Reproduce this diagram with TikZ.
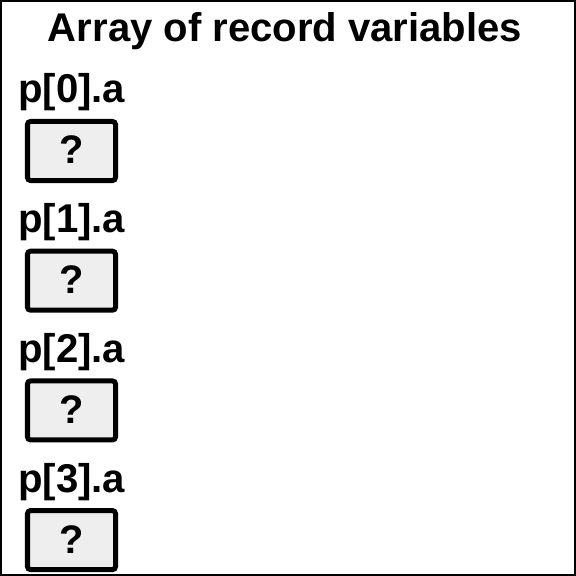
\documentclass[tikz,border=0pt]{standalone}
\usepackage{fontspec}
\setmainfont{Liberation Sans}
\begin{document}
\begin{tikzpicture}[x=1bp,y=-1bp,
  lbl/.style={inner sep=0pt,anchor=base west,font=\fontsize{40.3}{42}\selectfont\bfseries},
  cell/.style={draw=black,line width=5bp,fill=cellgray,rounded corners=3bp,minimum width=88bp,minimum height=59bp,inner sep=0pt},
  qm/.style={inner sep=0pt,anchor=base,font=\fontsize{40}{42}\selectfont\bfseries}]
\definecolor{cellgray}{HTML}{EEEEEE}
\useasboundingbox (0,0) rectangle (576,576);
\draw[line width=2bp] (1,1) rectangle (575,575);
\node[inner sep=0pt,anchor=base,font=\fontsize{40.2}{42}\selectfont\bfseries] (title) at (285,42) {Array of record variables};
\foreach \i in {0,1,2,3}{
  \pgfmathsetmacro{\yy}{129.7*\i}
  \node[lbl] (l\i) at (18,103+\yy) {p[\i].a};
  \node[cell] (c\i) at (71.5,151+\yy) {};
  \node[qm] (q\i) at (72,164+\yy) {?};
}
\end{tikzpicture}
\end{document}
